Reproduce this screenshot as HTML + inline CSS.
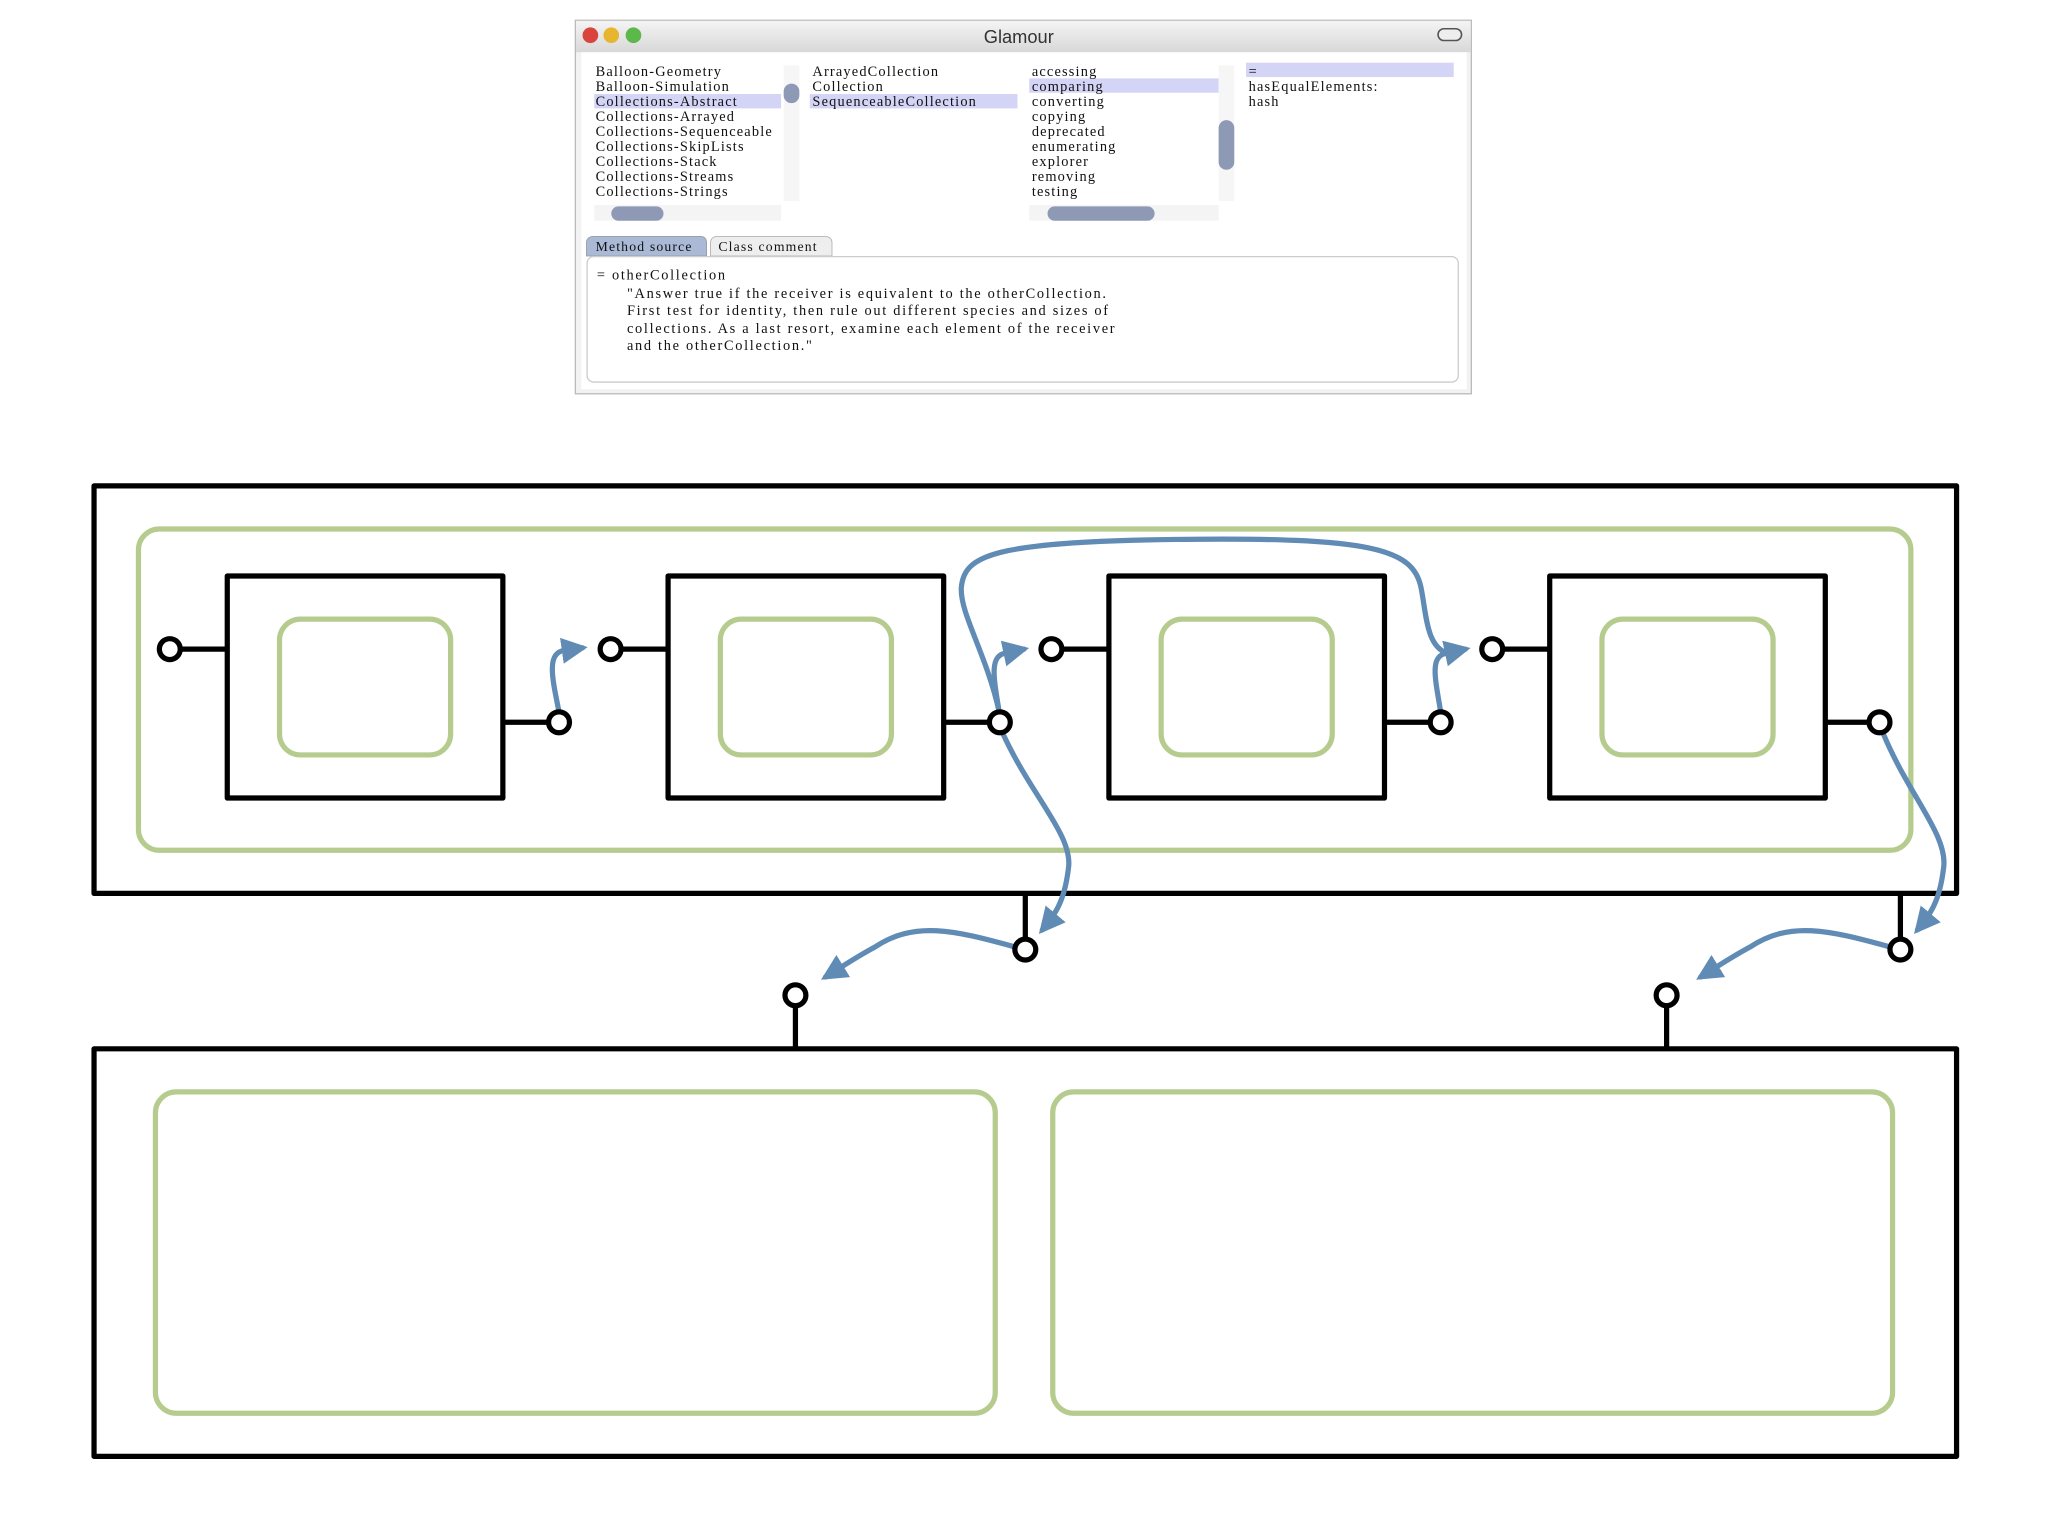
<!DOCTYPE html>
<html><head><meta charset="utf-8"><style>
html,body{margin:0;padding:0;background:#fff;}
svg{display:block;}
.t{font-family:"Liberation Serif",serif;font-size:11px;fill:#111;letter-spacing:0.9px;}
.s{letter-spacing:1.3px;}
</style></head><body>
<svg width="2048" height="1536" viewBox="0 0 1568 1176" preserveAspectRatio="none" xmlns="http://www.w3.org/2000/svg">
<defs>
<marker id="ar" viewBox="0 0 10 10" refX="8" refY="5" markerWidth="5" markerHeight="5" orient="auto" markerUnits="strokeWidth">
<path d="M0,0 L10,5 L0,10 Z" fill="#5f8bb5"/></marker>
<linearGradient id="tb" x1="0" y1="0" x2="0" y2="1"><stop offset="0" stop-color="#f4f4f4"/><stop offset="1" stop-color="#d8d8d8"/></linearGradient>
</defs>
<!-- window -->
<rect x="440.5" y="15.5" width="686" height="286" fill="#f2f2f2" stroke="#bbb"/>
<rect x="441" y="16" width="685" height="24" fill="url(#tb)"/>
<circle cx="452" cy="27" r="6" fill="#d9443c"/><circle cx="468" cy="27" r="6" fill="#e8b530"/><circle cx="485" cy="27" r="6" fill="#5cb84a"/>
<text x="780" y="33" text-anchor="middle" font-family="Liberation Sans,sans-serif" font-size="14" fill="#333">Glamour</text>
<rect x="1101" y="22" width="18" height="9" rx="4.5" fill="#eee" stroke="#555" stroke-width="1.2"/>
<rect x="445" y="40" width="678" height="258" fill="#fff"/>
<rect x="455" y="72" width="143" height="11" fill="#d4d4f7"/>
<rect x="620" y="72" width="159" height="11" fill="#d4d4f7"/>
<rect x="788" y="60" width="145" height="11" fill="#d4d4f7"/>
<rect x="954" y="48" width="159" height="11" fill="#d4d4f7"/>
<g class="t">
<text x="456" y="58">Balloon-Geometry</text><text x="456" y="69.5">Balloon-Simulation</text><text x="456" y="81">Collections-Abstract</text><text x="456" y="92.5">Collections-Arrayed</text><text x="456" y="104">Collections-Sequenceable</text><text x="456" y="115.5">Collections-SkipLists</text><text x="456" y="127">Collections-Stack</text><text x="456" y="138.5">Collections-Streams</text><text x="456" y="150">Collections-Strings</text>
<text x="622" y="58">ArrayedCollection</text><text x="622" y="69.5">Collection</text><text x="622" y="81">SequenceableCollection</text>
<text x="790" y="58">accessing</text><text x="790" y="69.5">comparing</text><text x="790" y="81">converting</text><text x="790" y="92.5">copying</text><text x="790" y="104">deprecated</text><text x="790" y="115.5">enumerating</text><text x="790" y="127">explorer</text><text x="790" y="138.5">removing</text><text x="790" y="150">testing</text>
<text x="956" y="58">=</text><text x="956" y="69.5">hasEqualElements:</text><text x="956" y="81">hash</text>
</g>
<rect x="600" y="50" width="12" height="104" fill="#f6f6f6"/><rect x="600" y="64" width="12" height="15" rx="6" fill="#8e9ab5"/>
<rect x="455" y="157" width="143" height="12" fill="#f4f4f4"/><rect x="468" y="158" width="40" height="11" rx="5.5" fill="#8e9ab5"/>
<rect x="933" y="50" width="12" height="104" fill="#f6f6f6"/><rect x="933" y="92" width="12" height="38" rx="6" fill="#8e9ab5"/>
<rect x="788" y="157" width="145" height="12" fill="#f4f4f4"/><rect x="802" y="158" width="82" height="11" rx="5.5" fill="#8e9ab5"/>
<path d="M449,196 L449,186 Q449,181 455,181 L536,181 Q541,181 541,186 L541,196 Z" fill="#a9b9d6" stroke="#999" stroke-width="0.6"/>
<path d="M544,196 L544,186 Q544,181 550,181 L631,181 Q637,181 637,186 L637,196 Z" fill="#eee" stroke="#aaa" stroke-width="0.6"/>
<text x="456" y="192" class="t" style="font-size:10.5px">Method source</text>
<text x="550" y="192" class="t" style="font-size:10.5px">Class comment</text>
<rect x="449.5" y="196.5" width="667" height="96" rx="5" fill="#fff" stroke="#ccc"/>
<g class="t s">
<text x="457" y="214">= otherCollection</text>
<text x="480" y="228">"Answer true if the receiver is equivalent to the otherCollection.</text>
<text x="480" y="241">First test for identity, then rule out different species and sizes of</text>
<text x="480" y="255">collections. As a last resort, examine each element of the receiver</text>
<text x="480" y="268">and the otherCollection."</text>
</g>
<!-- diagram -->
<g fill="none" stroke-linejoin="round">
<rect x="72" y="372" width="1426" height="312" stroke="#000" stroke-width="4"/>
<rect x="106" y="405" width="1357" height="246" rx="16" stroke="#b5cc8e" stroke-width="4"/>
<rect x="72" y="803" width="1426" height="312" stroke="#000" stroke-width="4"/>
<rect x="119" y="836" width="643" height="246" rx="16" stroke="#b5cc8e" stroke-width="4"/>
<rect x="806" y="836" width="643" height="246" rx="16" stroke="#b5cc8e" stroke-width="4"/>
<g id="blk">
<rect x="174" y="441" width="211" height="170" stroke="#000" stroke-width="4"/>
<rect x="214" y="474" width="131" height="104" rx="16" stroke="#b5cc8e" stroke-width="4"/>
<line x1="138" y1="497" x2="174" y2="497" stroke="#000" stroke-width="4"/>
<line x1="385" y1="553" x2="420" y2="553" stroke="#000" stroke-width="4"/>
</g>
<use href="#blk" x="337.5"/><use href="#blk" x="675"/><use href="#blk" x="1012.5"/>
<line x1="785" y1="684" x2="785" y2="720" stroke="#000" stroke-width="4"/>
<line x1="1455" y1="684" x2="1455" y2="720" stroke="#000" stroke-width="4"/>
<line x1="609" y1="769" x2="609" y2="803" stroke="#000" stroke-width="4"/>
<line x1="1276" y1="769" x2="1276" y2="803" stroke="#000" stroke-width="4"/>
<g stroke="#5f8bb5" stroke-width="4" stroke-linecap="round">
<path d="M428,545 C423,520 418,500 432,498 L446,496" marker-end="url(#ar)"/>
<path d="M765,545 C761,520 757,502 770,500 L784,497" marker-end="url(#ar)"/>
<path d="M1103,545 C1099,520 1094,502 1108,500 L1122,497" marker-end="url(#ar)"/>
<path d="M765,545 C755,500 735,470 736,450 C738,425 760,415 900,413 C1050,411 1082,420 1088,450 C1092,470 1092,495 1108,500" />
<path d="M768,562 C790,610 822,640 818,665 C815,690 808,700 798,712" marker-end="url(#ar)"/>
<path d="M1442,562 C1462,610 1492,640 1488,665 C1485,690 1478,700 1468,712" marker-end="url(#ar)"/>
<path d="M777,725 C730,712 700,705 670,725 C655,733 645,740 632,748" marker-end="url(#ar)"/>
<path d="M1447,725 C1400,712 1370,705 1340,725 C1325,733 1315,740 1302,748" marker-end="url(#ar)"/>
</g>
<g stroke="#000" stroke-width="4" fill="#fff">
<circle cx="130" cy="497" r="8"/><circle cx="428" cy="553" r="8"/>
<circle cx="467.5" cy="497" r="8"/><circle cx="765.5" cy="553" r="8"/>
<circle cx="805" cy="497" r="8"/><circle cx="1103" cy="553" r="8"/>
<circle cx="1142.5" cy="497" r="8"/><circle cx="1439" cy="553" r="8"/>
<circle cx="785" cy="727" r="8"/><circle cx="1455" cy="727" r="8"/>
<circle cx="609" cy="762" r="8"/><circle cx="1276" cy="762" r="8"/>
</g>
</g>
</svg>
</body></html>
